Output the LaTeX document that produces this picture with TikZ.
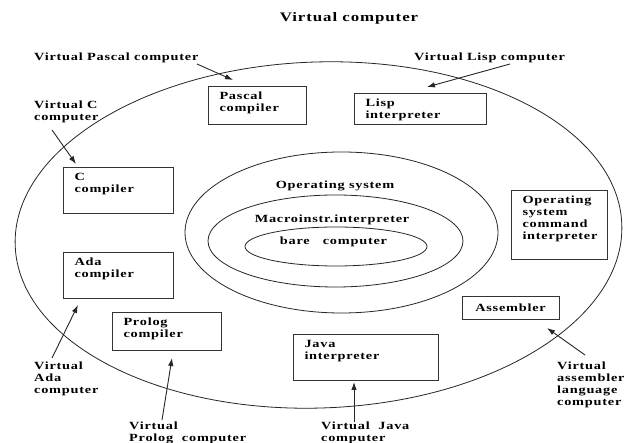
\documentclass[tikz,border=0pt]{standalone}
\usepackage{fontspec}
\setmainfont{Liberation Serif}[FakeStretch=1.3,LetterSpace=7]
\usetikzlibrary{shapes.geometric,arrows.meta}
\newcommand{\bxc}[3]{\parbox[c][#2][t]{#1}{\vspace*{6pt}\leftskip=11.5pt\relax #3\par}}
\begin{document}
\begin{tikzpicture}[x=1pt,y=-1pt,
  every node/.style={font=\fontsize{11}{12}\selectfont\bfseries},
  lbl/.style={inner sep=0, align=left, anchor=north west},
  box/.style={draw=black!80, line width=0.8pt, inner sep=0, outer sep=0, anchor=north west},
  ell/.style={ellipse, draw=black!85, line width=0.8pt, inner sep=0, outer sep=0},
  arr/.style={draw=black!85, line width=0.9pt, -{Latex[length=8pt,width=5.5pt]}}]
\fill[white] (0,0) rectangle (624,443);
\useasboundingbox (0,0) rectangle (624,443);

% ellipses
\node[ell, minimum width=607, minimum height=346, rotate=2] (vc) at (318.5,235) {};
\node[ell, minimum width=313, minimum height=161] (os) at (341.5,232.5) {};
\node[ell, minimum width=255, minimum height=92] (mac) at (335.5,241) {};
\node[ell, minimum width=182, minimum height=39] (bare) at (336,246.5) {};

% texts in ellipses
\node[inner sep=0, anchor=base] (tos) at (335,188.5) {Operating system};
\node[inner sep=0, anchor=base] (tmac) at (332,222.5) {Macroinstr.interpreter};
\node[inner sep=0, anchor=base] (tbare) at (333.5,244.5) {bare\ \ \ computer};

% title
\node[font=\fontsize{13}{15}\selectfont\bfseries, inner sep=0, anchor=base] (title) at (349,21.5) {Virtual computer};

% boxes
\node[box] (pascal) at (208,86) {\bxc{98pt}{38pt}{Pascal\\compiler}};
\node[box] (lisp) at (354,93) {\bxc{132pt}{31pt}{Lisp\\interpreter}};
\node[box] (cc) at (63,167) {\bxc{110pt}{46pt}{C\\compiler}};
\node[box] (ada) at (63,252) {\bxc{110pt}{46pt}{Ada\\compiler}};
\node[box] (oscmd) at (511,190) {\bxc{96pt}{69pt}{Operating\\system\\command\\interpreter}};
\node[box] (prolog) at (112,312) {\bxc{109pt}{38pt}{Prolog\\compiler}};
\node[box] (java) at (293,334) {\bxc{145pt}{46pt}{Java\\interpreter}};
\node[draw=black!80, line width=0.8pt, inner sep=0, minimum width=97, minimum height=23] (asm) at (510.5,307.5) {Assembler};

% outside labels
\node[lbl, anchor=base west] (lpas) at (34,61) {Virtual Pascal computer};
\node[lbl, anchor=base west] (llisp) at (414,61) {Virtual Lisp computer};
\node[lbl] (lc) at (34,100.5) {Virtual C\\computer};
\node[lbl] (lada) at (34,361.5) {Virtual\\Ada\\computer};
\node[lbl] (lpro) at (129,421.5) {Virtual\\Prolog\ \ computer};
\node[lbl] (ljava) at (321,421.5) {Virtual\ \ Java\\computer};
\node[lbl] (lasm) at (557,361.5) {Virtual\\assembler\\language\\computer};

% arrow ends
\coordinate (apas1) at (197,64);  \coordinate (apas2) at (233,80);
\coordinate (alisp1) at (510,64); \coordinate (alisp2) at (427,87);
\coordinate (ac1) at (52,130);    \coordinate (ac2) at (76,164);
\coordinate (aada1) at (52,358);  \coordinate (aada2) at (78,305);
\coordinate (apro1) at (162,420); \coordinate (apro2) at (172,358);
\coordinate (ajava1) at (354,422);\coordinate (ajava2) at (354,382);
\coordinate (aasm1) at (585,355); \coordinate (aasm2) at (547,328);

\draw[arr] (apas1) -- (apas2);
\draw[arr] (alisp1) -- (alisp2);
\draw[arr] (ac1) -- (ac2);
\draw[arr] (aada1) -- (aada2);
\draw[arr] (apro1) -- (apro2);
\draw[arr] (ajava1) -- (ajava2);
\draw[arr] (aasm1) -- (aasm2);
\end{tikzpicture}
\end{document}
